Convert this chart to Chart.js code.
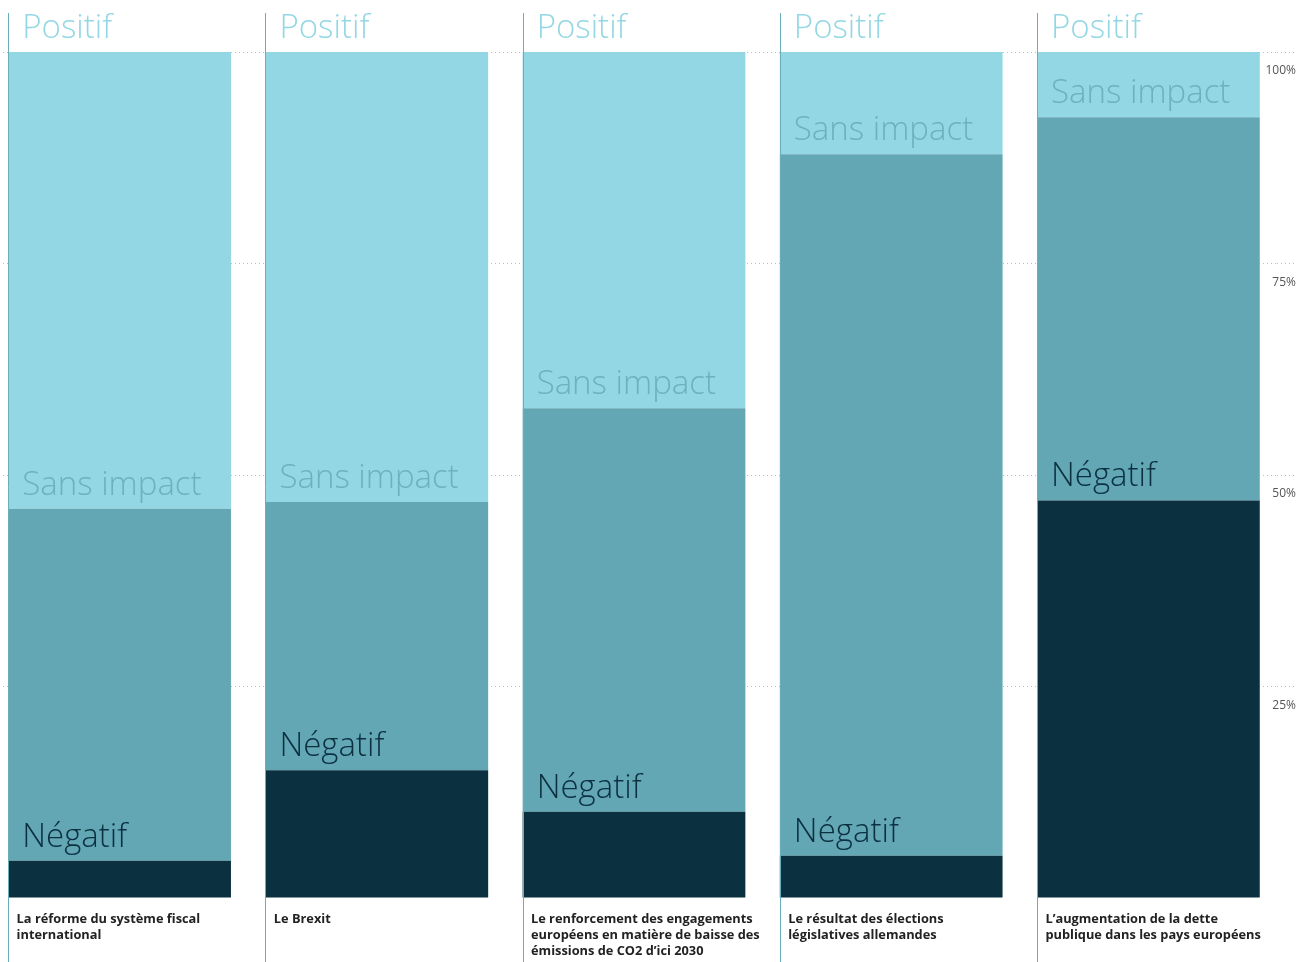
<!DOCTYPE html>
<html lang="fr">
<head>
<meta charset="utf-8">
<title>Impact</title>
<script src="https://cdn.jsdelivr.net/npm/chart.js@4/dist/chart.umd.min.js"></script>
<style>
  html, body { margin: 0; padding: 0; background: #fff; overflow: hidden; }
  body { width: 1306px; height: 962px; position: relative; }
  #wrap { position: absolute; left: -9px; top: 0; width: 1305px; height: 962px; }
</style>
</head>
<body>
<div id="wrap"><canvas id="chartImpact"></canvas></div>
<script>
// Données (en % des réponses)
const categories = [
    ['La réforme du système fiscal', 'international'],
    ['Le Brexit'],
    ['Le renforcement des engagements', 'européens en matière de baisse des', 'émissions de CO2 d\u2019ici 2030'],
    ['Le résultat des élections', 'législatives allemandes'],
    ['L\u2019augmentation de la dette', 'publique dans les pays européens']
];
const negatif    = [4.4, 15.1, 10.2, 5.0, 47.0];
const sansImpact = [41.6, 31.7, 47.7, 82.9, 45.3];
const positif    = [54.0, 53.2, 42.1, 12.1, 7.7];
const yTicks = [25, 50, 75, 100];

const couleurs = {
    negatif: '#0b3040',
    sans: '#63a7b4',
    positif: '#92d7e3'
};
// couleur du texte de chaque série
const couleursTexte = ['#0b3040', '#6db1bd', '#92d7e3'];

// Lignes verticales + étiquettes au-dessus de chaque segment
const etiquettesPlugin = {
    id: 'etiquettes',
    afterDatasetsDraw(chart) {
        const ctx = chart.ctx;
        ctx.save();

        const base = chart.getDatasetMeta(0);
        ctx.strokeStyle = '#6aaebb';
        ctx.lineWidth = 1;
        base.data.forEach(bar => {
            const x = Math.round(bar.x - bar.width / 2) + 0.5;
            ctx.beginPath();
            ctx.moveTo(x, 13);
            ctx.lineTo(x, chart.height);
            ctx.stroke();
        });

        ctx.font = '300 33px "Open Sans"';
        ctx.textAlign = 'left';
        ctx.textBaseline = 'alphabetic';
        chart.data.datasets.forEach((ds, i) => {
            const meta = chart.getDatasetMeta(i);
            ctx.fillStyle = couleursTexte[i];
            meta.data.forEach(bar => {
                const left = bar.x - bar.width / 2;
                ctx.fillText(ds.label, left + 14, bar.y - 14);
            });
        });
        ctx.restore();
    }
};

const ctxImpact = document.getElementById('chartImpact').getContext('2d');
const chart = new Chart(ctxImpact, {
    type: 'bar',
    data: {
        labels: categories,
        datasets: [
            { label: 'Négatif', data: negatif, backgroundColor: couleurs.negatif },
            { label: 'Sans impact', data: sansImpact, backgroundColor: couleurs.sans },
            { label: 'Positif', data: positif, backgroundColor: couleurs.positif }
        ]
    },
    options: {
        responsive: true,
        maintainAspectRatio: false,
        animation: false,
        layout: { padding: { top: 52, bottom: 0, left: 0, right: 0 } },
        datasets: {
            bar: { barPercentage: 0.866, categoryPercentage: 1, borderWidth: 0 }
        },
        plugins: {
            legend: { display: false },
            tooltip: { enabled: false }
        },
        scales: {
            x: {
                stacked: true,
                grid: { display: false, drawTicks: false },
                border: { display: false },
                ticks: {
                    align: 'start',
                    labelOffset: -103,
                    padding: 13,
                    color: '#222',
                    font: { family: 'Open Sans', size: 12.8, weight: 700, lineHeight: 1.25 }
                },
                afterFit(scale) {
                    scale.height = 64;
                    scale.paddingLeft = 0;
                    scale.paddingRight = 0;
                }
            },
            y: {
                stacked: true,
                position: 'right',
                min: 0,
                max: 100,
                afterBuildTicks(scale) {
                    scale.ticks = [0].concat(yTicks).map(v => ({ value: v }));
                },
                grid: {
                    color: c => c.tick && c.tick.value === 0 ? 'rgba(0,0,0,0)' : '#8fcfd9',
                    lineWidth: 1,
                    drawTicks: true,
                    tickLength: 19,
                    tickBorderDash: [1, 3]
                },
                border: { display: false, dash: [1, 3] },
                ticks: {
                    mirror: true,
                    crossAlign: 'near',
                    labelOffset: 19,
                    padding: 19,
                    color: '#555',
                    font: { family: 'Open Sans', size: 12 },
                    callback: v => v === 0 ? '' : v + '%'
                },
                afterFit(scale) {
                    scale.width = 19;
                    scale.paddingTop = 0;
                    scale.paddingBottom = 0;
                }
            }
        }
    },
    plugins: [etiquettesPlugin]
});
</script>
</body>
</html>
